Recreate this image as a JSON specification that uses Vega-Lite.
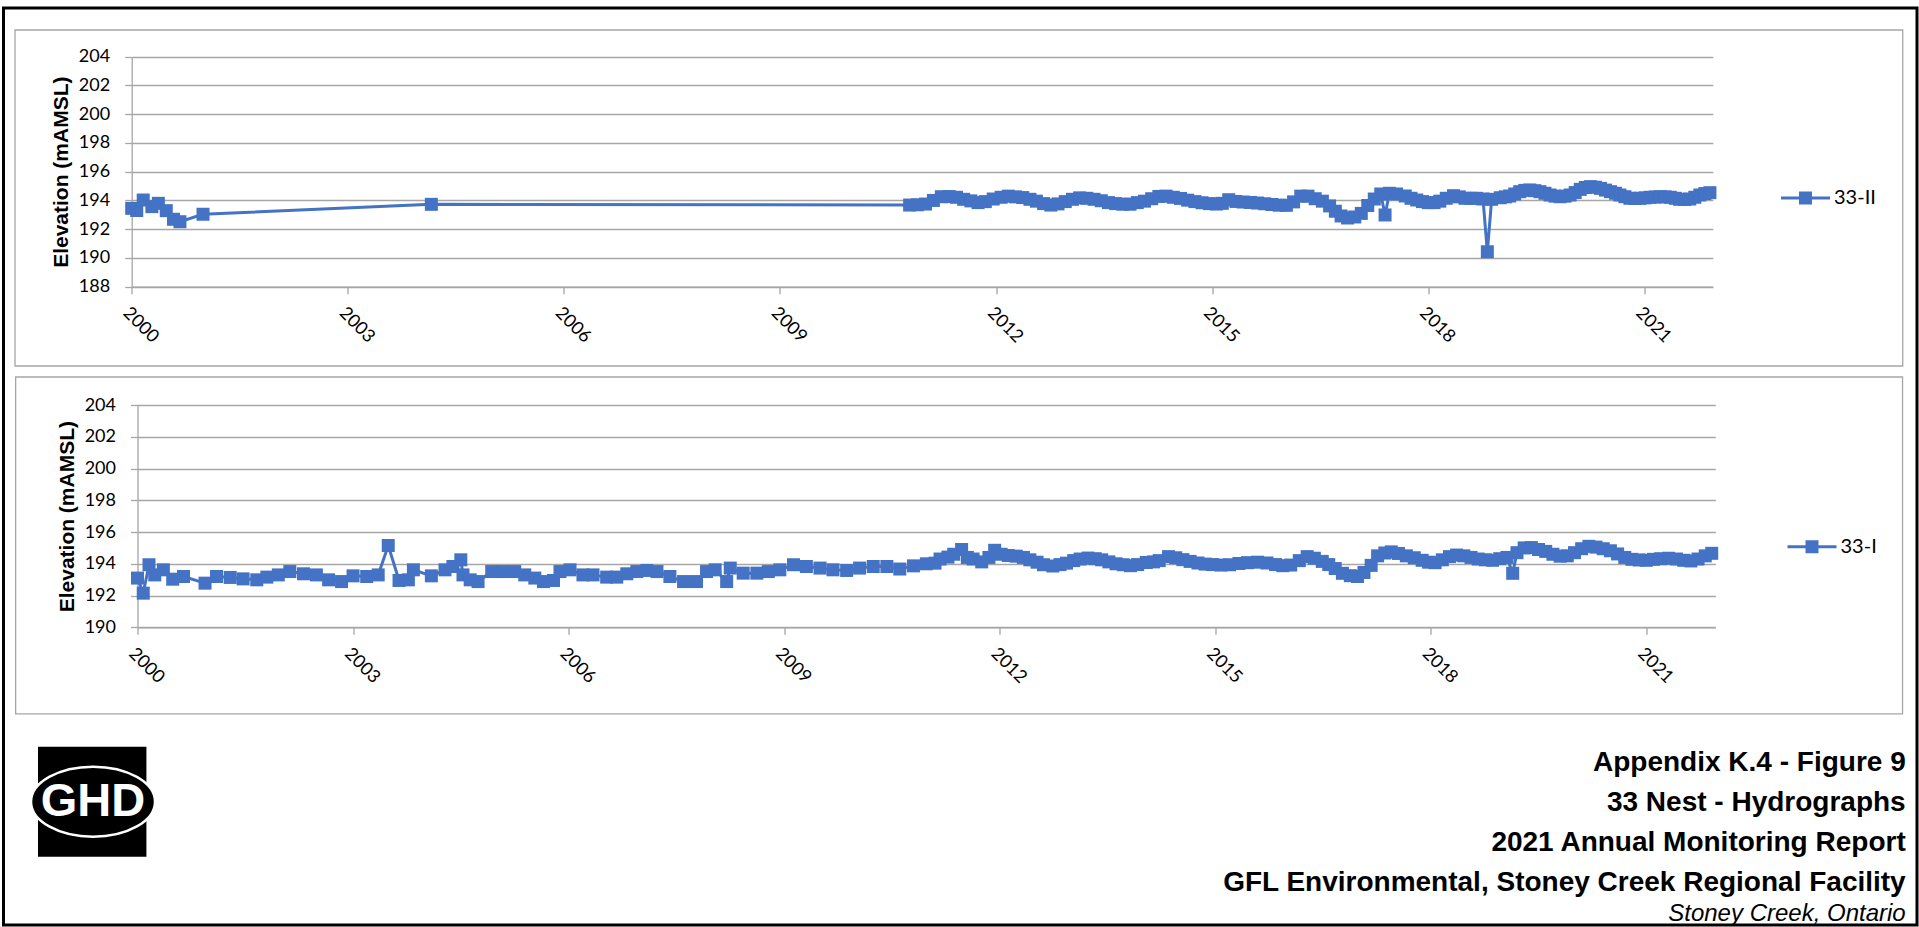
{
  "$schema": "https://vega.github.io/schema/vega-lite/v6.json",
  "width": 1913.5,
  "height": 917,
  "autosize": {"type": "none"},
  "padding": {"left": 3.5, "top": 8, "right": 2, "bottom": 2},
  "background": "white",
  "config": {
    "view": {"stroke": "#000000", "strokeWidth": 3},
    "axis": {
      "domainColor": "#a6a6a6", "domainWidth": 1.3,
      "gridColor": "#a6a6a6", "gridWidth": 1.3,
      "tickColor": "#a6a6a6", "tickWidth": 1.3, "tickSize": 7,
      "labelColor": "#000000", "labelFont": "Lato", "labelFontSize": 18,
      "titleColor": "#000000", "titleFont": "Liberation Sans", "titleFontSize": 21, "titleFontWeight": "bold",
      "labelOverlap": false, "labelBound": false, "labelFlush": false
    },
    "legend": {
      "orient": "none", "title": null, "padding": 0,
      "symbolType": "M-1,-0.061H1V0.061H-1Z M-0.265,-0.265H0.265V0.265H-0.265Z",
      "symbolSize": 2401, "symbolStrokeWidth": 0,
      "labelFont": "Lato", "labelFontSize": 20, "labelColor": "#000000", "labelOffset": 4
    }
  },
  "datasets": {
    "s1": [
      {"year": 2000.00, "elev": 193.45, "well": "33-II"},
      {"year": 2000.07, "elev": 193.30, "well": "33-II"},
      {"year": 2000.16, "elev": 194.03, "well": "33-II"},
      {"year": 2000.28, "elev": 193.57, "well": "33-II"},
      {"year": 2000.37, "elev": 193.80, "well": "33-II"},
      {"year": 2000.48, "elev": 193.29, "well": "33-II"},
      {"year": 2000.58, "elev": 192.69, "well": "33-II"},
      {"year": 2000.67, "elev": 192.52, "well": "33-II"},
      {"year": 2000.99, "elev": 193.04, "well": "33-II"},
      {"year": 2004.16, "elev": 193.73, "well": "33-II"},
      {"year": 2010.80, "elev": 193.68, "well": "33-II"},
      {"year": 2010.91, "elev": 193.70, "well": "33-II"},
      {"year": 2011.02, "elev": 193.75, "well": "33-II"},
      {"year": 2011.13, "elev": 194.00, "well": "33-II"},
      {"year": 2011.24, "elev": 194.26, "well": "33-II"},
      {"year": 2011.35, "elev": 194.27, "well": "33-II"},
      {"year": 2011.45, "elev": 194.22, "well": "33-II"},
      {"year": 2011.55, "elev": 194.08, "well": "33-II"},
      {"year": 2011.65, "elev": 193.97, "well": "33-II"},
      {"year": 2011.75, "elev": 193.85, "well": "33-II"},
      {"year": 2011.85, "elev": 193.92, "well": "33-II"},
      {"year": 2011.96, "elev": 194.10, "well": "33-II"},
      {"year": 2012.07, "elev": 194.22, "well": "33-II"},
      {"year": 2012.17, "elev": 194.30, "well": "33-II"},
      {"year": 2012.27, "elev": 194.25, "well": "33-II"},
      {"year": 2012.37, "elev": 194.20, "well": "33-II"},
      {"year": 2012.47, "elev": 194.08, "well": "33-II"},
      {"year": 2012.56, "elev": 193.95, "well": "33-II"},
      {"year": 2012.66, "elev": 193.78, "well": "33-II"},
      {"year": 2012.76, "elev": 193.68, "well": "33-II"},
      {"year": 2012.86, "elev": 193.76, "well": "33-II"},
      {"year": 2012.96, "elev": 193.92, "well": "33-II"},
      {"year": 2013.06, "elev": 194.08, "well": "33-II"},
      {"year": 2013.16, "elev": 194.18, "well": "33-II"},
      {"year": 2013.26, "elev": 194.15, "well": "33-II"},
      {"year": 2013.36, "elev": 194.08, "well": "33-II"},
      {"year": 2013.46, "elev": 193.98, "well": "33-II"},
      {"year": 2013.56, "elev": 193.85, "well": "33-II"},
      {"year": 2013.66, "elev": 193.78, "well": "33-II"},
      {"year": 2013.76, "elev": 193.74, "well": "33-II"},
      {"year": 2013.86, "elev": 193.74, "well": "33-II"},
      {"year": 2013.96, "elev": 193.85, "well": "33-II"},
      {"year": 2014.06, "elev": 193.95, "well": "33-II"},
      {"year": 2014.16, "elev": 194.12, "well": "33-II"},
      {"year": 2014.26, "elev": 194.28, "well": "33-II"},
      {"year": 2014.36, "elev": 194.30, "well": "33-II"},
      {"year": 2014.46, "elev": 194.22, "well": "33-II"},
      {"year": 2014.56, "elev": 194.14, "well": "33-II"},
      {"year": 2014.66, "elev": 194.02, "well": "33-II"},
      {"year": 2014.76, "elev": 193.92, "well": "33-II"},
      {"year": 2014.86, "elev": 193.84, "well": "33-II"},
      {"year": 2014.96, "elev": 193.78, "well": "33-II"},
      {"year": 2015.06, "elev": 193.75, "well": "33-II"},
      {"year": 2015.14, "elev": 193.80, "well": "33-II"},
      {"year": 2015.23, "elev": 194.05, "well": "33-II"},
      {"year": 2015.33, "elev": 193.93, "well": "33-II"},
      {"year": 2015.43, "elev": 193.89, "well": "33-II"},
      {"year": 2015.53, "elev": 193.86, "well": "33-II"},
      {"year": 2015.63, "elev": 193.82, "well": "33-II"},
      {"year": 2015.73, "elev": 193.77, "well": "33-II"},
      {"year": 2015.83, "elev": 193.72, "well": "33-II"},
      {"year": 2015.93, "elev": 193.67, "well": "33-II"},
      {"year": 2016.03, "elev": 193.66, "well": "33-II"},
      {"year": 2016.13, "elev": 193.90, "well": "33-II"},
      {"year": 2016.23, "elev": 194.30, "well": "33-II"},
      {"year": 2016.33, "elev": 194.30, "well": "33-II"},
      {"year": 2016.43, "elev": 194.12, "well": "33-II"},
      {"year": 2016.53, "elev": 193.95, "well": "33-II"},
      {"year": 2016.63, "elev": 193.62, "well": "33-II"},
      {"year": 2016.71, "elev": 193.25, "well": "33-II"},
      {"year": 2016.79, "elev": 192.92, "well": "33-II"},
      {"year": 2016.88, "elev": 192.78, "well": "33-II"},
      {"year": 2016.98, "elev": 192.85, "well": "33-II"},
      {"year": 2017.07, "elev": 193.10, "well": "33-II"},
      {"year": 2017.16, "elev": 193.65, "well": "33-II"},
      {"year": 2017.25, "elev": 194.10, "well": "33-II"},
      {"year": 2017.34, "elev": 194.45, "well": "33-II"},
      {"year": 2017.40, "elev": 192.99, "well": "33-II"},
      {"year": 2017.46, "elev": 194.50, "well": "33-II"},
      {"year": 2017.56, "elev": 194.45, "well": "33-II"},
      {"year": 2017.68, "elev": 194.31, "well": "33-II"},
      {"year": 2017.76, "elev": 194.15, "well": "33-II"},
      {"year": 2017.84, "elev": 194.03, "well": "33-II"},
      {"year": 2017.92, "elev": 193.92, "well": "33-II"},
      {"year": 2018.00, "elev": 193.85, "well": "33-II"},
      {"year": 2018.08, "elev": 193.85, "well": "33-II"},
      {"year": 2018.16, "elev": 193.95, "well": "33-II"},
      {"year": 2018.25, "elev": 194.15, "well": "33-II"},
      {"year": 2018.35, "elev": 194.33, "well": "33-II"},
      {"year": 2018.43, "elev": 194.25, "well": "33-II"},
      {"year": 2018.51, "elev": 194.15, "well": "33-II"},
      {"year": 2018.59, "elev": 194.15, "well": "33-II"},
      {"year": 2018.67, "elev": 194.15, "well": "33-II"},
      {"year": 2018.76, "elev": 194.10, "well": "33-II"},
      {"year": 2018.82, "elev": 190.43, "well": "33-II"},
      {"year": 2018.88, "elev": 194.08, "well": "33-II"},
      {"year": 2019.00, "elev": 194.19, "well": "33-II"},
      {"year": 2019.07, "elev": 194.25, "well": "33-II"},
      {"year": 2019.13, "elev": 194.31, "well": "33-II"},
      {"year": 2019.20, "elev": 194.45, "well": "33-II"},
      {"year": 2019.27, "elev": 194.61, "well": "33-II"},
      {"year": 2019.34, "elev": 194.70, "well": "33-II"},
      {"year": 2019.41, "elev": 194.73, "well": "33-II"},
      {"year": 2019.48, "elev": 194.68, "well": "33-II"},
      {"year": 2019.55, "elev": 194.61, "well": "33-II"},
      {"year": 2019.62, "elev": 194.50, "well": "33-II"},
      {"year": 2019.69, "elev": 194.38, "well": "33-II"},
      {"year": 2019.76, "elev": 194.30, "well": "33-II"},
      {"year": 2019.83, "elev": 194.26, "well": "33-II"},
      {"year": 2019.90, "elev": 194.30, "well": "33-II"},
      {"year": 2019.97, "elev": 194.38, "well": "33-II"},
      {"year": 2020.04, "elev": 194.55, "well": "33-II"},
      {"year": 2020.11, "elev": 194.77, "well": "33-II"},
      {"year": 2020.18, "elev": 194.90, "well": "33-II"},
      {"year": 2020.25, "elev": 194.96, "well": "33-II"},
      {"year": 2020.32, "elev": 194.92, "well": "33-II"},
      {"year": 2020.39, "elev": 194.84, "well": "33-II"},
      {"year": 2020.46, "elev": 194.72, "well": "33-II"},
      {"year": 2020.53, "elev": 194.61, "well": "33-II"},
      {"year": 2020.60, "elev": 194.50, "well": "33-II"},
      {"year": 2020.66, "elev": 194.38, "well": "33-II"},
      {"year": 2020.73, "elev": 194.26, "well": "33-II"},
      {"year": 2020.80, "elev": 194.15, "well": "33-II"},
      {"year": 2020.87, "elev": 194.14, "well": "33-II"},
      {"year": 2020.94, "elev": 194.15, "well": "33-II"},
      {"year": 2021.01, "elev": 194.18, "well": "33-II"},
      {"year": 2021.08, "elev": 194.22, "well": "33-II"},
      {"year": 2021.15, "elev": 194.24, "well": "33-II"},
      {"year": 2021.22, "elev": 194.26, "well": "33-II"},
      {"year": 2021.29, "elev": 194.25, "well": "33-II"},
      {"year": 2021.36, "elev": 194.22, "well": "33-II"},
      {"year": 2021.43, "elev": 194.15, "well": "33-II"},
      {"year": 2021.49, "elev": 194.08, "well": "33-II"},
      {"year": 2021.56, "elev": 194.07, "well": "33-II"},
      {"year": 2021.63, "elev": 194.10, "well": "33-II"},
      {"year": 2021.70, "elev": 194.22, "well": "33-II"},
      {"year": 2021.77, "elev": 194.38, "well": "33-II"},
      {"year": 2021.84, "elev": 194.48, "well": "33-II"},
      {"year": 2021.91, "elev": 194.54, "well": "33-II"}
    ],
    "s2": [
      {"year": 2000.00, "elev": 193.10, "well": "33-I"},
      {"year": 2000.08, "elev": 192.15, "well": "33-I"},
      {"year": 2000.16, "elev": 193.94, "well": "33-I"},
      {"year": 2000.24, "elev": 193.30, "well": "33-I"},
      {"year": 2000.36, "elev": 193.62, "well": "33-I"},
      {"year": 2000.49, "elev": 193.03, "well": "33-I"},
      {"year": 2000.64, "elev": 193.20, "well": "33-I"},
      {"year": 2000.94, "elev": 192.78, "well": "33-I"},
      {"year": 2001.10, "elev": 193.20, "well": "33-I"},
      {"year": 2001.29, "elev": 193.14, "well": "33-I"},
      {"year": 2001.47, "elev": 193.05, "well": "33-I"},
      {"year": 2001.66, "elev": 192.99, "well": "33-I"},
      {"year": 2001.80, "elev": 193.16, "well": "33-I"},
      {"year": 2001.96, "elev": 193.30, "well": "33-I"},
      {"year": 2002.12, "elev": 193.51, "well": "33-I"},
      {"year": 2002.31, "elev": 193.37, "well": "33-I"},
      {"year": 2002.49, "elev": 193.30, "well": "33-I"},
      {"year": 2002.66, "elev": 192.99, "well": "33-I"},
      {"year": 2002.84, "elev": 192.88, "well": "33-I"},
      {"year": 2003.00, "elev": 193.24, "well": "33-I"},
      {"year": 2003.19, "elev": 193.20, "well": "33-I"},
      {"year": 2003.35, "elev": 193.30, "well": "33-I"},
      {"year": 2003.49, "elev": 195.15, "well": "33-I"},
      {"year": 2003.64, "elev": 192.95, "well": "33-I"},
      {"year": 2003.77, "elev": 192.99, "well": "33-I"},
      {"year": 2003.84, "elev": 193.62, "well": "33-I"},
      {"year": 2004.09, "elev": 193.24, "well": "33-I"},
      {"year": 2004.28, "elev": 193.62, "well": "33-I"},
      {"year": 2004.39, "elev": 193.83, "well": "33-I"},
      {"year": 2004.50, "elev": 194.25, "well": "33-I"},
      {"year": 2004.53, "elev": 193.30, "well": "33-I"},
      {"year": 2004.63, "elev": 192.99, "well": "33-I"},
      {"year": 2004.74, "elev": 192.88, "well": "33-I"},
      {"year": 2004.93, "elev": 193.51, "well": "33-I"},
      {"year": 2005.09, "elev": 193.51, "well": "33-I"},
      {"year": 2005.25, "elev": 193.51, "well": "33-I"},
      {"year": 2005.39, "elev": 193.30, "well": "33-I"},
      {"year": 2005.53, "elev": 193.10, "well": "33-I"},
      {"year": 2005.65, "elev": 192.88, "well": "33-I"},
      {"year": 2005.79, "elev": 192.95, "well": "33-I"},
      {"year": 2005.88, "elev": 193.51, "well": "33-I"},
      {"year": 2006.02, "elev": 193.62, "well": "33-I"},
      {"year": 2006.20, "elev": 193.30, "well": "33-I"},
      {"year": 2006.34, "elev": 193.30, "well": "33-I"},
      {"year": 2006.53, "elev": 193.16, "well": "33-I"},
      {"year": 2006.67, "elev": 193.16, "well": "33-I"},
      {"year": 2006.81, "elev": 193.37, "well": "33-I"},
      {"year": 2006.95, "elev": 193.51, "well": "33-I"},
      {"year": 2007.09, "elev": 193.58, "well": "33-I"},
      {"year": 2007.23, "elev": 193.51, "well": "33-I"},
      {"year": 2007.41, "elev": 193.20, "well": "33-I"},
      {"year": 2007.60, "elev": 192.88, "well": "33-I"},
      {"year": 2007.78, "elev": 192.88, "well": "33-I"},
      {"year": 2007.92, "elev": 193.51, "well": "33-I"},
      {"year": 2008.04, "elev": 193.62, "well": "33-I"},
      {"year": 2008.20, "elev": 192.88, "well": "33-I"},
      {"year": 2008.25, "elev": 193.73, "well": "33-I"},
      {"year": 2008.43, "elev": 193.41, "well": "33-I"},
      {"year": 2008.62, "elev": 193.41, "well": "33-I"},
      {"year": 2008.78, "elev": 193.51, "well": "33-I"},
      {"year": 2008.94, "elev": 193.62, "well": "33-I"},
      {"year": 2009.13, "elev": 193.94, "well": "33-I"},
      {"year": 2009.31, "elev": 193.83, "well": "33-I"},
      {"year": 2009.50, "elev": 193.73, "well": "33-I"},
      {"year": 2009.68, "elev": 193.62, "well": "33-I"},
      {"year": 2009.87, "elev": 193.58, "well": "33-I"},
      {"year": 2010.05, "elev": 193.73, "well": "33-I"},
      {"year": 2010.24, "elev": 193.83, "well": "33-I"},
      {"year": 2010.43, "elev": 193.83, "well": "33-I"},
      {"year": 2010.61, "elev": 193.67, "well": "33-I"},
      {"year": 2010.80, "elev": 193.87, "well": "33-I"},
      {"year": 2010.98, "elev": 194.00, "well": "33-I"},
      {"year": 2011.10, "elev": 194.04, "well": "33-I"},
      {"year": 2011.17, "elev": 194.30, "well": "33-I"},
      {"year": 2011.28, "elev": 194.42, "well": "33-I"},
      {"year": 2011.36, "elev": 194.60, "well": "33-I"},
      {"year": 2011.47, "elev": 194.90, "well": "33-I"},
      {"year": 2011.55, "elev": 194.40, "well": "33-I"},
      {"year": 2011.63, "elev": 194.30, "well": "33-I"},
      {"year": 2011.75, "elev": 194.12, "well": "33-I"},
      {"year": 2011.85, "elev": 194.40, "well": "33-I"},
      {"year": 2011.93, "elev": 194.85, "well": "33-I"},
      {"year": 2012.02, "elev": 194.60, "well": "33-I"},
      {"year": 2012.12, "elev": 194.52, "well": "33-I"},
      {"year": 2012.23, "elev": 194.48, "well": "33-I"},
      {"year": 2012.33, "elev": 194.40, "well": "33-I"},
      {"year": 2012.42, "elev": 194.25, "well": "33-I"},
      {"year": 2012.52, "elev": 194.10, "well": "33-I"},
      {"year": 2012.61, "elev": 193.94, "well": "33-I"},
      {"year": 2012.74, "elev": 193.86, "well": "33-I"},
      {"year": 2012.84, "elev": 193.95, "well": "33-I"},
      {"year": 2012.93, "elev": 194.04, "well": "33-I"},
      {"year": 2013.03, "elev": 194.20, "well": "33-I"},
      {"year": 2013.12, "elev": 194.30, "well": "33-I"},
      {"year": 2013.23, "elev": 194.36, "well": "33-I"},
      {"year": 2013.33, "elev": 194.32, "well": "33-I"},
      {"year": 2013.42, "elev": 194.25, "well": "33-I"},
      {"year": 2013.52, "elev": 194.12, "well": "33-I"},
      {"year": 2013.62, "elev": 194.00, "well": "33-I"},
      {"year": 2013.72, "elev": 193.94, "well": "33-I"},
      {"year": 2013.82, "elev": 193.88, "well": "33-I"},
      {"year": 2013.92, "elev": 193.95, "well": "33-I"},
      {"year": 2014.04, "elev": 194.08, "well": "33-I"},
      {"year": 2014.14, "elev": 194.12, "well": "33-I"},
      {"year": 2014.22, "elev": 194.20, "well": "33-I"},
      {"year": 2014.35, "elev": 194.45, "well": "33-I"},
      {"year": 2014.45, "elev": 194.38, "well": "33-I"},
      {"year": 2014.55, "elev": 194.26, "well": "33-I"},
      {"year": 2014.65, "elev": 194.15, "well": "33-I"},
      {"year": 2014.76, "elev": 194.05, "well": "33-I"},
      {"year": 2014.86, "elev": 193.98, "well": "33-I"},
      {"year": 2014.96, "elev": 193.95, "well": "33-I"},
      {"year": 2015.08, "elev": 193.92, "well": "33-I"},
      {"year": 2015.20, "elev": 193.94, "well": "33-I"},
      {"year": 2015.33, "elev": 194.02, "well": "33-I"},
      {"year": 2015.45, "elev": 194.07, "well": "33-I"},
      {"year": 2015.59, "elev": 194.10, "well": "33-I"},
      {"year": 2015.72, "elev": 194.05, "well": "33-I"},
      {"year": 2015.84, "elev": 193.95, "well": "33-I"},
      {"year": 2015.94, "elev": 193.88, "well": "33-I"},
      {"year": 2016.05, "elev": 193.92, "well": "33-I"},
      {"year": 2016.17, "elev": 194.20, "well": "33-I"},
      {"year": 2016.28, "elev": 194.45, "well": "33-I"},
      {"year": 2016.38, "elev": 194.35, "well": "33-I"},
      {"year": 2016.49, "elev": 194.15, "well": "33-I"},
      {"year": 2016.58, "elev": 193.95, "well": "33-I"},
      {"year": 2016.67, "elev": 193.70, "well": "33-I"},
      {"year": 2016.77, "elev": 193.40, "well": "33-I"},
      {"year": 2016.88, "elev": 193.25, "well": "33-I"},
      {"year": 2016.98, "elev": 193.20, "well": "33-I"},
      {"year": 2017.07, "elev": 193.45, "well": "33-I"},
      {"year": 2017.17, "elev": 193.90, "well": "33-I"},
      {"year": 2017.26, "elev": 194.50, "well": "33-I"},
      {"year": 2017.36, "elev": 194.68, "well": "33-I"},
      {"year": 2017.45, "elev": 194.75, "well": "33-I"},
      {"year": 2017.55, "elev": 194.65, "well": "33-I"},
      {"year": 2017.66, "elev": 194.50, "well": "33-I"},
      {"year": 2017.77, "elev": 194.38, "well": "33-I"},
      {"year": 2017.88, "elev": 194.22, "well": "33-I"},
      {"year": 2017.97, "elev": 194.10, "well": "33-I"},
      {"year": 2018.06, "elev": 194.07, "well": "33-I"},
      {"year": 2018.16, "elev": 194.25, "well": "33-I"},
      {"year": 2018.26, "elev": 194.45, "well": "33-I"},
      {"year": 2018.36, "elev": 194.55, "well": "33-I"},
      {"year": 2018.46, "elev": 194.50, "well": "33-I"},
      {"year": 2018.56, "elev": 194.40, "well": "33-I"},
      {"year": 2018.66, "elev": 194.30, "well": "33-I"},
      {"year": 2018.76, "elev": 194.25, "well": "33-I"},
      {"year": 2018.86, "elev": 194.22, "well": "33-I"},
      {"year": 2018.96, "elev": 194.32, "well": "33-I"},
      {"year": 2019.06, "elev": 194.40, "well": "33-I"},
      {"year": 2019.14, "elev": 193.40, "well": "33-I"},
      {"year": 2019.20, "elev": 194.70, "well": "33-I"},
      {"year": 2019.30, "elev": 195.00, "well": "33-I"},
      {"year": 2019.40, "elev": 195.02, "well": "33-I"},
      {"year": 2019.50, "elev": 194.90, "well": "33-I"},
      {"year": 2019.60, "elev": 194.78, "well": "33-I"},
      {"year": 2019.70, "elev": 194.60, "well": "33-I"},
      {"year": 2019.80, "elev": 194.48, "well": "33-I"},
      {"year": 2019.90, "elev": 194.50, "well": "33-I"},
      {"year": 2020.00, "elev": 194.70, "well": "33-I"},
      {"year": 2020.10, "elev": 194.95, "well": "33-I"},
      {"year": 2020.20, "elev": 195.10, "well": "33-I"},
      {"year": 2020.30, "elev": 195.05, "well": "33-I"},
      {"year": 2020.40, "elev": 194.95, "well": "33-I"},
      {"year": 2020.50, "elev": 194.82, "well": "33-I"},
      {"year": 2020.60, "elev": 194.62, "well": "33-I"},
      {"year": 2020.70, "elev": 194.40, "well": "33-I"},
      {"year": 2020.80, "elev": 194.28, "well": "33-I"},
      {"year": 2020.90, "elev": 194.24, "well": "33-I"},
      {"year": 2021.00, "elev": 194.22, "well": "33-I"},
      {"year": 2021.10, "elev": 194.28, "well": "33-I"},
      {"year": 2021.20, "elev": 194.32, "well": "33-I"},
      {"year": 2021.31, "elev": 194.35, "well": "33-I"},
      {"year": 2021.42, "elev": 194.30, "well": "33-I"},
      {"year": 2021.52, "elev": 194.22, "well": "33-I"},
      {"year": 2021.62, "elev": 194.18, "well": "33-I"},
      {"year": 2021.72, "elev": 194.30, "well": "33-I"},
      {"year": 2021.82, "elev": 194.50, "well": "33-I"},
      {"year": 2021.91, "elev": 194.66, "well": "33-I"}
    ]
  },
  "layer": [
    {
      "layer": [
        {
          "data": {"values": [{}]},
          "mark": {"type": "rect", "filled": false, "color": "#a6a6a6", "strokeWidth": 1.3},
          "encoding": {
            "x": {"datum": 1998.38, "type": "quantitative"},
            "x2": {"datum": 2024.587},
            "y": {"datum": 205.857, "type": "quantitative"},
            "y2": {"datum": 182.483}
          }
        },
        {
          "data": {"name": "s1"},
          "mark": {"type": "line", "color": "#4472C4", "strokeWidth": 3},
          "encoding": {
            "x": {
              "field": "year", "type": "quantitative",
              "scale": {"domain": [2000, 2021.95], "range": [128.2, 1709.3], "nice": false, "zero": false},
              "axis": {"orient": "bottom", "offset": -638.3, "values": [2000, 2003, 2006, 2009, 2012, 2015, 2018, 2021], "format": "d", "labelAngle": 45, "labelAlign": "left", "labelBaseline": "top", "labelPadding": 10, "title": null, "grid": false}
            },
            "y": {
              "field": "elev", "type": "quantitative",
              "scale": {"domain": [188, 204], "range": [278.7, 48.7], "nice": false, "zero": false},
              "axis": {"orient": "left", "offset": -128.2, "values": [188, 190, 192, 194, 196, 198, 200, 202, 204], "format": "d", "title": "Elevation (mAMSL)", "titlePadding": 7, "labelPadding": 15, "grid": true}
            }
          }
        },
        {
          "data": {"name": "s1"},
          "mark": {"type": "point", "shape": "square", "filled": true, "size": 169, "opacity": 1},
          "encoding": {
            "x": {"field": "year", "type": "quantitative"},
            "y": {"field": "elev", "type": "quantitative"},
            "color": {"field": "well", "type": "nominal", "scale": {"range": ["#4472C4"]}, "legend": {"legendX": 1777.5, "legendY": 165.5}}
          }
        }
      ]
    },
    {
      "layer": [
        {
          "data": {"values": [{}]},
          "mark": {"type": "rect", "filled": false, "color": "#a6a6a6", "strokeWidth": 1.3},
          "encoding": {
            "x": {"datum": 1998.304, "type": "quantitative"},
            "x2": {"datum": 2024.566},
            "y": {"datum": 205.763, "type": "quantitative"},
            "y2": {"datum": 184.542}
          }
        },
        {
          "data": {"values": [{}]},
          "mark": {"type": "rect", "color": "#000000"},
          "encoding": {
            "x": {"datum": 1998.615, "type": "quantitative"},
            "x2": {"datum": 2000.124},
            "y": {"datum": 182.483, "type": "quantitative"},
            "y2": {"datum": 175.556}
          }
        },
        {
          "data": {"values": [{}]},
          "mark": {"type": "point", "shape": "M-1,0A1,0.565,0,1,0,1,0A1,0.565,0,1,0,-1,0Z", "size": 15376, "filled": true, "fill": "#000000", "stroke": "#ffffff", "strokeWidth": 2.5, "opacity": 1},
          "encoding": {
            "x": {"datum": 1999.381, "type": "quantitative"},
            "y": {"datum": 179.019, "type": "quantitative"}
          }
        },
        {
          "data": {"values": [{}]},
          "mark": {"type": "text", "text": "GHD", "font": "Liberation Sans", "fontWeight": "bold", "fontSize": 47, "color": "#ffffff", "align": "center", "baseline": "middle"},
          "encoding": {
            "x": {"datum": 1999.381, "type": "quantitative"},
            "y": {"datum": 178.97, "type": "quantitative"}
          }
        },
        {
          "data": {"values": [{}]},
          "mark": {"type": "text", "text": ["Appendix K.4 - Figure 9", "33 Nest - Hydrographs", "2021 Annual Monitoring Report", "GFL Environmental, Stoney Creek Regional Facility"], "font": "Liberation Sans", "fontWeight": "bold", "fontSize": 28, "lineHeight": 40, "color": "#000000", "align": "right", "baseline": "alphabetic"},
          "encoding": {
            "x": {"datum": 2024.61, "type": "quantitative"},
            "y": {"datum": 180.93, "type": "quantitative"}
          }
        },
        {
          "data": {"values": [{}]},
          "mark": {"type": "text", "text": "Stoney Creek, Ontario", "font": "Liberation Sans", "fontStyle": "italic", "fontSize": 24, "color": "#000000", "align": "right", "baseline": "alphabetic"},
          "encoding": {
            "x": {"datum": 2024.61, "type": "quantitative"},
            "y": {"datum": 171.51, "type": "quantitative"}
          }
        },
        {
          "data": {"name": "s2"},
          "mark": {"type": "line", "color": "#4472C4", "strokeWidth": 3},
          "encoding": {
            "x": {
              "field": "year", "type": "quantitative",
              "scale": {"domain": [2000, 2021.96], "range": [134, 1711.8], "nice": false, "zero": false},
              "axis": {"orient": "bottom", "offset": -297.7, "values": [2000, 2003, 2006, 2009, 2012, 2015, 2018, 2021], "format": "d", "labelAngle": 45, "labelAlign": "left", "labelBaseline": "top", "labelPadding": 10, "title": null, "grid": false}
            },
            "y": {
              "field": "elev", "type": "quantitative",
              "scale": {"domain": [190, 204], "range": [619.3, 397], "nice": false, "zero": false},
              "axis": {"orient": "left", "offset": -134, "values": [190, 192, 194, 196, 198, 200, 202, 204], "format": "d", "title": "Elevation (mAMSL)", "titlePadding": 7, "labelPadding": 15, "grid": true}
            }
          }
        },
        {
          "data": {"name": "s2"},
          "mark": {"type": "point", "shape": "square", "filled": true, "size": 169, "opacity": 1},
          "encoding": {
            "x": {"field": "year", "type": "quantitative"},
            "y": {"field": "elev", "type": "quantitative"},
            "color": {"field": "well", "type": "nominal", "scale": {"range": ["#4472C4"]}, "legend": {"legendX": 1784, "legendY": 514.2}}
          }
        }
      ]
    }
  ],
  "resolve": {
    "scale": {"x": "independent", "y": "independent", "color": "independent"},
    "axis": {"x": "independent", "y": "independent"},
    "legend": {"color": "independent"}
  }
}
